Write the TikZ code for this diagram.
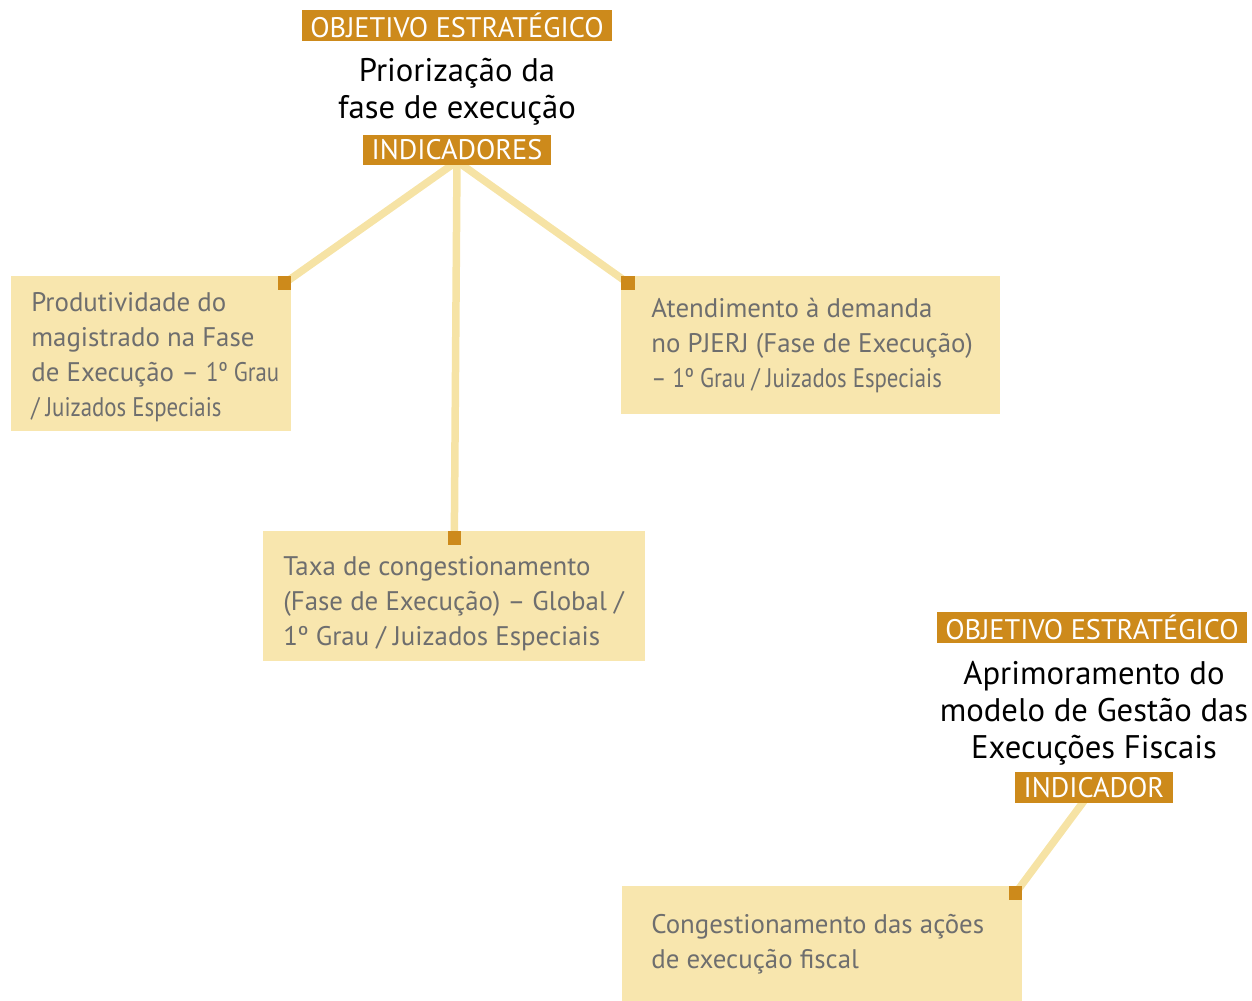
\documentclass[tikz,border=0pt]{standalone}
\usepackage{fontspec}
\usepackage{graphicx}
\setmainfont{PT Sans}
\usetikzlibrary{positioning,backgrounds}
\definecolor{ouro}{HTML}{CD8A1B}
\definecolor{creme}{HTML}{F8E6AE}
\definecolor{linha}{HTML}{F6E3A5}
\definecolor{cinza}{HTML}{6E6E6E}
\newcommand{\estreito}[1]{\scalebox{0.85}[1]{#1}}

\begin{document}
\begin{tikzpicture}[x=0.02cm,y=-0.02cm]
\tikzstyle{tag}=[rectangle, fill=ouro, text=white, inner xsep=5pt, inner ysep=0pt, minimum height=0.62cm, font=\fontsize{16.1}{18}\selectfont]
\tikzstyle{titulo}=[align=center, text=black, inner sep=0pt, font=\fontsize{18.6}{21}\selectfont]
\tikzstyle{caixa}=[rectangle, fill=creme, anchor=north west, inner sep=0pt]
\tikzstyle{texto}=[align=left, text=cinza, anchor=west, inner sep=0pt, font=\fontsize{15.3}{19.9}\selectfont]
\tikzstyle{marca}=[rectangle, fill=ouro, minimum size=0.27cm, inner sep=0pt]
\tikzstyle{liga}=[draw=linha, line width=0.15cm]
\useasboundingbox (0,0) rectangle (1252,1001);

% first objective
\node[tag] (obj1) at (457,25.5) {OBJETIVO ESTRATÉGICO};
\node[titulo] (tit1) at (457,92) {Priorização da\\fase de execução};
\node[tag, minimum height=0.6cm] (ind1) at (457,150) {INDICADORES};

\node[caixa, minimum width=5.6cm, minimum height=3.1cm] (prod) at (11,276) {};
\node[texto] (prodtxt) at ([xshift=0.4cm, yshift=-1.7pt]prod.west) {Produtividade do\\magistrado na Fase\\de Execução – \estreito{1º Grau}\\\estreito{/ Juizados Especiais}};
\node[marca, anchor=north east] (mprod) at (prod.north east) {};

\node[caixa, minimum width=7.58cm, minimum height=2.76cm] (aten) at (621,276) {};
\node[texto] (atentxt) at ([xshift=0.6cm]aten.west) {Atendimento à demanda\\no PJERJ (Fase de Execução)\\\estreito{– 1º Grau / Juizados Especiais}};
\node[marca, anchor=north west] (maten) at (aten.north west) {};

\node[caixa, minimum width=7.64cm, minimum height=2.6cm] (taxa) at (263,531) {};
\node[texto] (taxatxt) at ([xshift=0.4cm, yshift=-4pt]taxa.west) {Taxa de congestionamento\\(Fase de Execução) – Global /\\1º Grau / Juizados Especiais};
\node[marca, anchor=north] (mtaxa) at (taxa.north) {};

% second objective
\node[tag] (obj2) at (1092,627.5) {OBJETIVO ESTRATÉGICO};
\node[titulo] (tit2) at (1094,713) {Aprimoramento do\\modelo de Gestão das\\Execuções Fiscais};
\node[tag] (ind2) at (1094,787.5) {INDICADOR};

\node[caixa, minimum width=8cm, minimum height=2.32cm] (cong) at (622,886) {};
\node[texto] (congtxt) at ([xshift=0.58cm]cong.west) {Congestionamento das ações\\de execução fiscal};
\node[marca, anchor=north east] (mcong) at (cong.north east) {};

\begin{scope}[on background layer]
  \path
    ([yshift=2.3pt]ind1.south) edge [liga] (mprod.center)
    ([yshift=2.3pt]ind1.south) edge [liga] (mtaxa.center)
    ([yshift=2.3pt]ind1.south) edge [liga] (maten.center)
    (ind2.center) edge [liga] (mcong.center);
\end{scope}
\end{tikzpicture}
\end{document}
